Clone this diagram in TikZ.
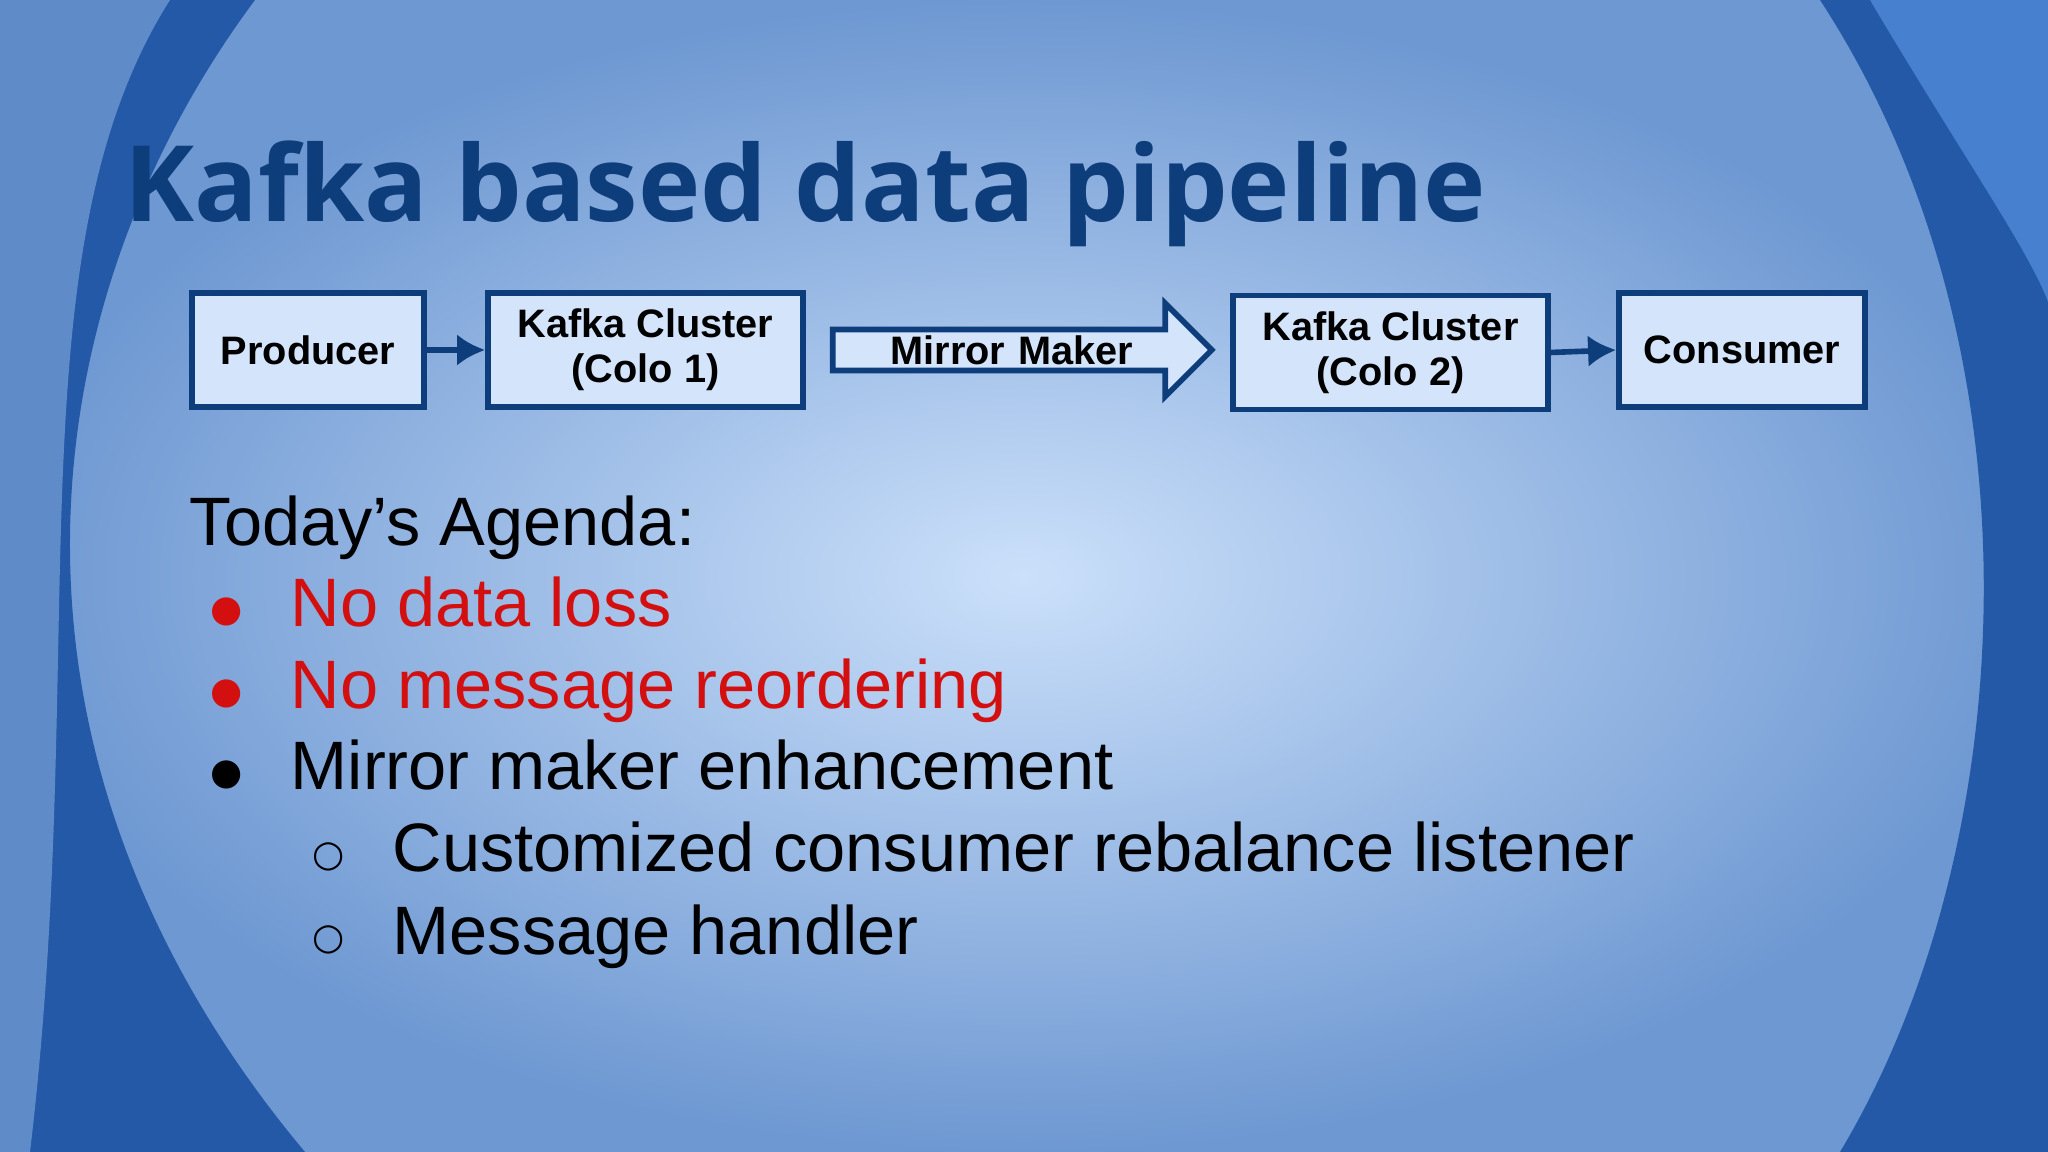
\documentclass[tikz,border=0pt]{standalone}
\usepackage{fontspec}
\setmainfont{Liberation Sans}
\newfontfamily\titlefont{Open Sans}
\newfontfamily\symfont{DejaVu Sans}
\usetikzlibrary{shapes.arrows,arrows.meta}
\definecolor{ttl}{HTML}{0E3D7C}
\definecolor{bfill}{HTML}{D4E5FB}
\definecolor{rd}{HTML}{D40F0F}
\definecolor{bgin}{HTML}{CBE0FA}
\definecolor{bgout}{HTML}{6E98D2}
\definecolor{dk}{HTML}{2459A8}
\definecolor{lt}{HTML}{5E9BEA}
\tikzset{
 box/.style={draw=ttl,line width=1.6pt,fill=bfill,minimum height=1.14cm,align=center,font=\fontsize{11.3}{12.8}\selectfont\bfseries,inner sep=0pt},
 conn/.style={draw=ttl,line width=1.6pt,-{Latex[length=8pt,width=9pt]}},
 itm/.style={anchor=base west,font=\fontsize{19.5}{23}\selectfont,inner sep=0pt},
 dot/.style={anchor=base west,font=\symfont\fontsize{10.5}{12}\selectfont,inner sep=0pt}
}
\begin{document}
\begin{tikzpicture}
\useasboundingbox (0,0) rectangle (20.48,11.52);
\shade[inner color=bgin,outer color=bgout] (0,0) rectangle (20.48,11.52);
% left decorations
\fill[dk] (0,11.52) -- (2.55,11.52) .. controls (0.3,8.5) and (-0.3,4) .. (3.05,0) -- (0,0) -- cycle;
\fill[bgout,opacity=0.8] (0,11.52) -- (1.7,11.52) .. controls (0.1,9) and (0.9,5) .. (0.3,0) -- (0,0) -- cycle;
% right decorations
\fill[dk] (20.48,11.52) -- (18.2,11.52) .. controls (20.5,8) and (20.2,3) .. (18.4,0) -- (20.48,0) -- cycle;
\fill[lt,opacity=0.6] (20.48,11.52) -- (18.7,11.52) .. controls (19.6,10) and (20.3,9) .. (20.48,8.5) -- cycle;
\node[anchor=base west,inner sep=0pt,text=ttl,font=\titlefont\fontsize{30}{32}\selectfont\bfseries] (title) at (1.24,9.30) {Kafka based data pipeline};
\node[box,minimum width=2.32cm] (prod) at (3.08,8.02) {Producer};
\node[box,minimum width=3.15cm] (k1) at (6.455,8.02) {Kafka Cluster\\(Colo 1)};
\node[single arrow,draw=ttl,line width=1.6pt,fill=bfill,minimum height=3.79cm,minimum width=0.93cm,single arrow head extend=0.22cm,single arrow tip angle=90,inner sep=0pt,font=\fontsize{11.3}{13.5}\selectfont\bfseries,text width=3.0cm,align=center] (mm) at (10.12,8.02) {Mirror Maker\hspace*{0.55cm}};
\node[box,minimum width=3.15cm] (k2) at (13.905,7.995) {Kafka Cluster\\(Colo 2)};
\node[box,minimum width=2.46cm] (cons) at (17.42,8.02) {Consumer};
\draw[conn] (prod) -- (k1);
\draw[conn] (k2.east) -- (cons.west);
\node[itm] (ag) at (1.89,6.06) {Today’s Agenda:};
\node[dot,text=rd] (b1d) at (2.10,5.30) {●};
\node[itm,text=rd] (b1) at (2.90,5.25) {No data loss};
\node[dot,text=rd] (b2d) at (2.10,4.48) {●};
\node[itm,text=rd] (b2) at (2.90,4.43) {No message reordering};
\node[dot] (b3d) at (2.10,3.67) {●};
\node[itm] (b3) at (2.90,3.62) {Mirror maker enhancement};
\node[dot] (s1d) at (3.12,2.85) {○};
\node[itm] (s1) at (3.92,2.80) {Customized consumer rebalance listener};
\node[dot] (s2d) at (3.12,2.02) {○};
\node[itm] (s2) at (3.92,1.97) {Message handler};
\end{tikzpicture}
\end{document}
